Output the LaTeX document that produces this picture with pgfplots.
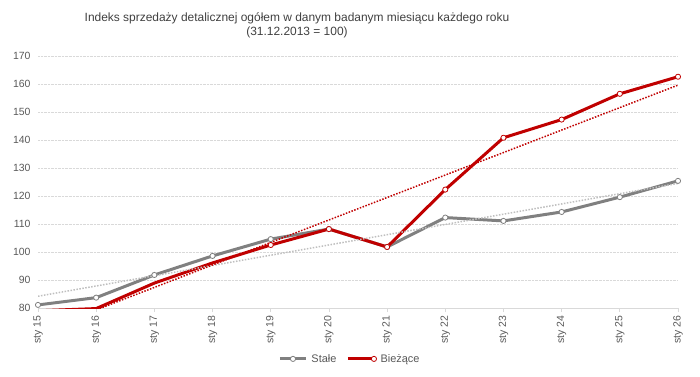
\documentclass[border=0pt]{standalone}
\usepackage{fontspec}
\setmainfont{Liberation Sans}
\usepackage{pgfplots}
\pgfplotsset{compat=1.18}
\definecolor{cred}{HTML}{C00000}
\definecolor{cgray}{HTML}{808080}
\definecolor{ctrend}{HTML}{BFBFBF}
\definecolor{ctext}{HTML}{595959}
\definecolor{cgrid}{HTML}{D9D9D9}
\definecolor{ctitle}{HTML}{404040}
\begin{document}
\begin{tikzpicture}[x=1bp,y=1bp]
\useasboundingbox (0,0) rectangle (700,376);
\node[font=\fontsize{12}{14.5}\selectfont, text=ctitle, align=center] at (297,350.5)
  {Indeks sprzedaży detalicznej ogółem w danym badanym miesiącu każdego roku\\(31.12.2013 = 100)};
\begin{axis}[
  at={(38bp,68bp)}, anchor=south west, scale only axis,
  width=640bp, height=252bp,
  xmin=0, xmax=11, ymin=80, ymax=170,
  ytick={80,90,...,170},
  xtick={0,...,11},
  xticklabels={sty 15,sty 16,sty 17,sty 18,sty 19,sty 20,sty 21,sty 22,sty 23,sty 24,sty 25,sty 26},
  xticklabel style={rotate=90, anchor=east, font=\fontsize{10.5}{11}\selectfont, text=ctext},
  yticklabel style={font=\fontsize{10.5}{11}\selectfont, text=ctext},
  /pgf/number format/assume math mode=true,
  axis x line*=bottom, axis y line*=left,
  x axis line style={draw=cgrid, line width=0.8bp, -},
  y axis line style={draw=none},
  xtick style={draw=cgrid, line width=0.8bp},
  ytick style={draw=none},
  tick align=outside, major tick length=4bp,
  ymajorgrids, grid style={densely dotted, cgrid, line width=0.6bp},
  clip=true,
  legend style={at={(0.4875,-0.202)}, anchor=center, legend columns=2, draw=none,
    font=\fontsize{11}{12}\selectfont, text=ctext, column sep=2bp,
    /tikz/every even column/.append style={column sep=8bp}},
  legend image code/.code={\draw[mark repeat=2,mark phase=2,#1] plot coordinates {(0bp,0bp) (13bp,0bp) (26bp,0bp)};},
  every axis plot/.append style={line join=round},
]
\addplot[cgray, line width=3bp, mark=*, mark size=2.6bp, mark options={fill=white, draw=cgray, line width=0.8bp}]
  coordinates {(0,81.1) (1,83.7) (2,91.8) (3,98.6) (4,104.6) (5,108.2) (6,101.8) (7,112.3) (8,111.1) (9,114.3) (10,119.6) (11,125.4)};
\addlegendentry{Stałe}
\addplot[cred, line width=3bp, mark=*, mark size=2.6bp, mark indices={3,4,5,6,7,8,9,10,11,12}, mark options={fill=white, draw=cred, line width=0.8bp}]
  coordinates {(0,79.0) (1,79.8) (2,88.9) (3,96.1) (4,102.5) (5,108.2) (6,101.8) (7,122.3) (8,140.8) (9,147.3) (10,156.5) (11,162.6)};
\addlegendentry{Bieżące}
\addplot[ctrend, dash pattern=on 1.5bp off 1.5bp, line width=1.5bp, forget plot] coordinates {(0,84.2) (11,124.5)};
\addplot[cred, dash pattern=on 1.5bp off 1.5bp, line width=1.5bp, forget plot] coordinates {(0,71.3) (11,159.6)};
\end{axis}
\end{tikzpicture}
\end{document}
